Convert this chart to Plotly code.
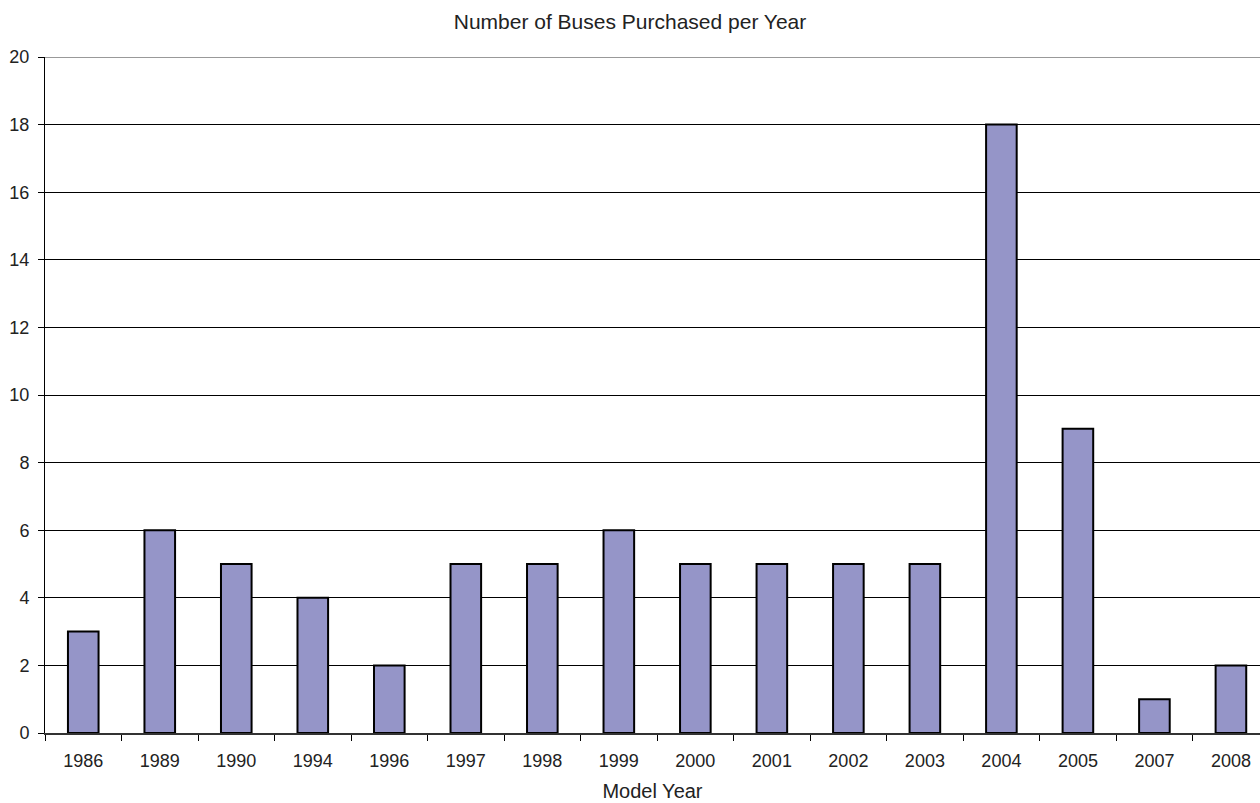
import plotly.graph_objects as go

years = ["1986", "1989", "1990", "1994", "1996", "1997", "1998", "1999",
         "2000", "2001", "2002", "2003", "2004", "2005", "2007", "2008"]
buses = [3, 6, 5, 4, 2, 5, 5, 6, 5, 5, 5, 5, 18, 9, 1, 2]
y_ticks = list(range(0, 21, 2))

fig = go.Figure()
fig.add_trace(go.Bar(
    x=years, y=buses, width=0.4,
    marker=dict(color="#9595C8", line=dict(color="#000000", width=2)),
))

font = "Liberation Sans, Arial, sans-serif"
fig.update_layout(
    width=1260, height=803,
    margin=dict(l=45, r=0, t=57, b=70),
    paper_bgcolor="white", plot_bgcolor="white",
    showlegend=False,
    title=dict(text="Number of Buses Purchased per Year", x=0.5, xanchor="center",
               y=1 - 22 / 803, yanchor="middle",
               font=dict(family=font, size=21, color="#222222")),
    xaxis=dict(
        type="category", range=[-0.5, 15.38],
        tickson="boundaries", ticks="outside", ticklen=6, tickcolor="#000000", tickwidth=1,
        showline=True, linecolor="#333333", linewidth=2, showgrid=False,
        ticklabelstandoff=10,
        tickfont=dict(family=font, size=18, color="#222222"),
        title=dict(text="Model Year", standoff=14,
                   font=dict(family=font, size=20, color="#222222")),
    ),
    yaxis=dict(
        range=[0, 20], tickvals=y_ticks,
        ticks="outside", ticklen=6, tickcolor="#000000", tickwidth=1,
        showline=True, linecolor="#000000", linewidth=1,
        showgrid=True, gridcolor="#000000", gridwidth=1, zeroline=False,
        ticklabelstandoff=5,
        tickfont=dict(family=font, size=18, color="#222222"),
    ),
    bargap=0.6,
)
fig.add_shape(type="line", xref="paper", yref="y", x0=0, x1=1, y0=20, y1=20,
              line=dict(color="#999999", width=2))

fig.write_html("out.html")
